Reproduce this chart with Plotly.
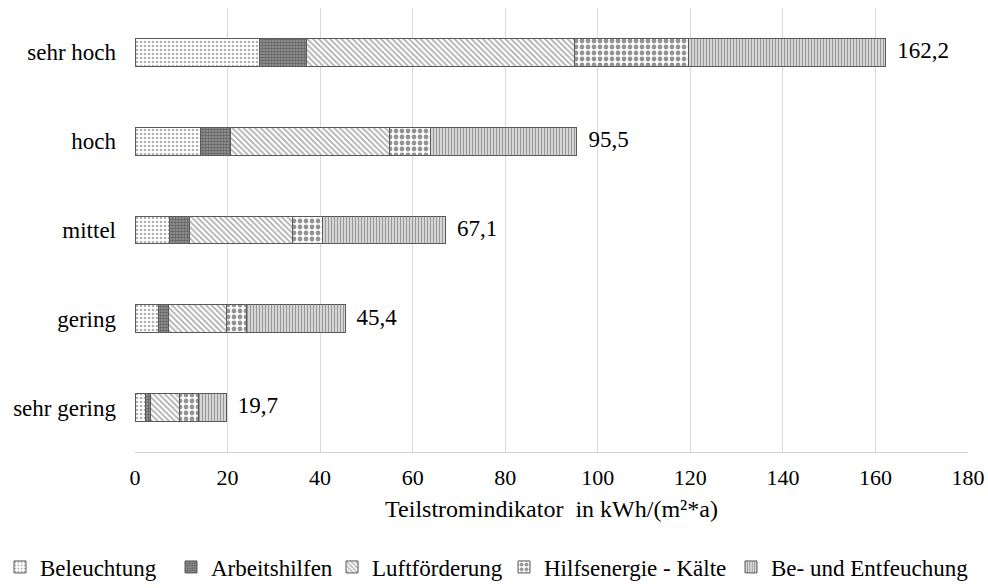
import plotly.graph_objects as go

categories = ["sehr gering", "gering", "mittel", "hoch", "sehr hoch"]
beleuchtung = [2.2, 5.0, 7.4, 14.2, 26.8]
arbeitshilfen = [1.2, 2.3, 4.3, 6.5, 10.3]
luftfoerderung = [6.3, 12.4, 22.4, 34.3, 57.8]
hilfsenergie = [4.1, 4.3, 6.4, 8.8, 24.8]
entfeuchtung = [5.9, 21.4, 26.6, 31.7, 42.5]
totals = [19.7, 45.4, 67.1, 95.5, 162.2]
x_ticks = [0, 20, 40, 60, 80, 100, 120, 140, 160, 180]

series = [
    ("Beleuchtung", beleuchtung, dict(shape=".", fgcolor="#666666", bgcolor="#ffffff", size=4, solidity=0.35)),
    ("Arbeitshilfen", arbeitshilfen, dict(shape=".", fgcolor="#2a2a2a", bgcolor="#9a9a9a", size=3, solidity=0.55)),
    ("Luftförderung", luftfoerderung, dict(shape="\\", fgcolor="#555555", bgcolor="#ffffff", size=4, solidity=0.4)),
    ("Hilfsenergie - Kälte", hilfsenergie, dict(shape=".", fgcolor="#2a2a2a", bgcolor="#ffffff", size=6, solidity=0.5)),
    ("Be- und Entfeuchung", entfeuchtung, dict(shape="|", fgcolor="#303030", bgcolor="#ffffff", size=3, solidity=0.6)),
]
# left x positions (px) of legend boxes
legend_x = [0, 171, 332, 504, 731]

FONT = "Liberation Serif"
W, H = 988, 588

fig = go.Figure()
legend_layout = {}
for i, (name, vals, pat) in enumerate(series):
    lname = "legend" if i == 0 else f"legend{i+1}"
    fig.add_trace(go.Bar(
        y=categories, x=vals, name=name, orientation="h",
        marker=dict(color="#ffffff", pattern=pat, line=dict(color="#595959", width=1)),
        hoverinfo="x+name", legend=lname,
    ))
    legend_layout[lname] = dict(
        x=legend_x[i] / W, xanchor="left", xref="container",
        y=21 / H, yanchor="middle", yref="container",
        font=dict(family=FONT, size=23, color="#000000"), bgcolor="rgba(0,0,0,0)",
    )

fig.add_trace(go.Scatter(
    y=categories, x=totals, mode="text",
    text=["\u00a0\u00a0" + f"{t:.1f}".replace(".", ",") for t in totals],
    textposition="middle right",
    textfont=dict(family=FONT, size=23, color="#000000"),
    showlegend=False, hoverinfo="skip", cliponaxis=False,
))

fig.update_layout(
    barmode="stack",
    bargap=0.685,
    width=W, height=H,
    margin=dict(l=135, r=20, t=8, b=136, autoexpand=False),
    paper_bgcolor="white", plot_bgcolor="white",
    font=dict(family=FONT, size=22, color="#000000"),
    xaxis=dict(
        range=[0, 180], tickvals=x_ticks, showgrid=True, gridcolor="#d9d9d9", gridwidth=1,
        zeroline=False, showline=True, linecolor="#d0d0d0", linewidth=1,
        ticks="", tickfont=dict(size=22), ticklabelstandoff=6, automargin=False,
        title=dict(text="Teilstromindikator \u00a0in kWh/(m²*a)", font=dict(size=24), standoff=10),
    ),
    yaxis=dict(
        categoryorder="array", categoryarray=categories,
        showgrid=False, zeroline=False, showline=False, ticks="",
        tickfont=dict(size=23), ticklabelstandoff=18, automargin=False,
    ),
    **legend_layout,
)

fig.write_html(
    "out.html",
    config={"displayModeBar": False},
    post_script="document.body.style.margin='0';document.body.style.overflow='hidden';",
)
